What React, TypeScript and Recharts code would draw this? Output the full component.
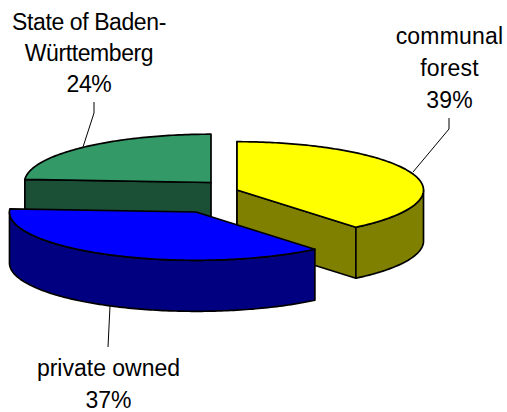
import React from "react";
import { PieChart, Pie, Cell } from "recharts";

const categories = ["State of Baden-Württemberg", "communal forest", "private owned"];
const shares = [24, 39, 37];
const labelLines = [["State of Baden-", "Württemberg", "24%"], ["communal", "forest", "39%"], ["private owned", "37%"]];

const topColors = ["#339966", "#ffff00", "#0000ff"];
const sideColors = ["#1c5036", "#808000", "#000080"];
const explodeX = [0, 26, -15];
const explodeY = [0, 7.5, 29.5];
const labelX = [89, 449.5, 108.5];
const labelY = [29.5, 44, 376];
const labelGap = [31, 32, 31.5];
const labelSpacing = [-0.4, 0.2, 0];
const leaders = [
  "94,102 94,113 83,147",
  "449,118 449,129 413,172",
  "108,347 110,306",
];

const TILT = 0.259;
const DEPTH = 51;
const RAD = Math.PI / 180;

function arcPath(cx: number, cy: number, r: number, a0: number, a1: number, dy = 0) {
  // a0, a1 are Recharts angles, running clockwise (a0 > a1)
  const pts: string[] = [];
  const n = Math.max(2, Math.ceil(Math.abs(a0 - a1)));
  for (let i = 0; i <= n; i++) {
    const a = (a0 + ((a1 - a0) * i) / n) * RAD;
    pts.push(`${(cx + r * Math.cos(a)).toFixed(2)},${(cy - r * TILT * Math.sin(a) + dy).toFixed(2)}`);
  }
  return pts;
}

function Slice3D(props: any) {
  const { cx, cy, outerRadius: r, startAngle, endAngle, index } = props;
  const x = cx + explodeX[index];
  const y = cy + explodeY[index];
  const stroke = { stroke: "#000", strokeWidth: 1.7, strokeLinejoin: "round" as const };
  const top = arcPath(x, y, r, startAngle, endAngle);
  const px = (a: number) => x + r * Math.cos(a * RAD);
  const py = (a: number) => y - r * TILT * Math.sin(a * RAD);

  const faces: React.ReactNode[] = [];
  // flat cut faces, drawn when they look towards the viewer
  [startAngle, endAngle].forEach((a: number, i: number) => {
    const outward = i === 0 ? Math.sin((a + 90) * RAD) : Math.sin((a - 90) * RAD);
    if (outward < 0) {
      faces.push(
        <polygon
          key={`cut${i}`}
          points={`${x},${y} ${px(a)},${py(a)} ${px(a)},${py(a) + DEPTH} ${x},${y + DEPTH}`}
          fill={sideColors[index]}
          {...stroke}
        />
      );
    }
  });
  // outer curved wall: the part of the arc on the front half
  const lo = Math.min(startAngle, endAngle);
  const hi = Math.max(startAngle, endAngle);
  for (let k = -2; k <= 1; k++) {
    const f0 = Math.max(lo, 180 + k * 360);
    const f1 = Math.min(hi, 360 + k * 360);
    if (f1 > f0) {
      const upper = arcPath(x, y, r, f1, f0);
      const lower = arcPath(x, y, r, f0, f1, DEPTH);
      faces.push(
        <polygon key={`wall${k}`} points={[...upper, ...lower].join(" ")} fill={sideColors[index]} {...stroke} />
      );
    }
  }
  return (
    <g>
      {faces}
      <polygon points={[`${x},${y}`, ...top].join(" ")} fill={topColors[index]} {...stroke} />
    </g>
  );
}

function SliceLabel(props: any) {
  const { index } = props;
  const lines = labelLines[index];
  return (
    <g>
      <polyline points={leaders[index]} fill="none" stroke="#000" strokeWidth={1} />
      <text
        x={labelX[index]}
        y={labelY[index]}
        textAnchor="middle"
        fontFamily="Liberation Sans, Arial, sans-serif"
        fontSize={23}
        letterSpacing={labelSpacing[index]}
        fill="#000"
      >
        {lines.map((l, i) => (
          <tspan key={i} x={labelX[index]} dy={i === 0 ? 0 : labelGap[index]}>
            {l}
          </tspan>
        ))}
      </text>
    </g>
  );
}

const data = categories.map((name, i) => ({ name, value: shares[i] }));

export default function App() {
  return (
    <div style={{ position: "absolute", left: 0, top: 0, width: 507, height: 412, background: "#fff" }}>
      <PieChart width={507} height={412} margin={{ top: 0, right: 0, bottom: 0, left: 0 }}>
        <Pie
          data={data}
          dataKey="value"
          nameKey="name"
          cx={211}
          cy={182.5}
          innerRadius={0}
          outerRadius={186.5}
          startAngle={-183.6}
          endAngle={-543.6}
          paddingAngle={0}
          stroke="none"
          isAnimationActive={false}
          shape={Slice3D}
          label={SliceLabel}
          labelLine={false}
        >
          {data.map((d, i) => (
            <Cell key={d.name} fill={topColors[i]} />
          ))}
        </Pie>
      </PieChart>
    </div>
  );
}
